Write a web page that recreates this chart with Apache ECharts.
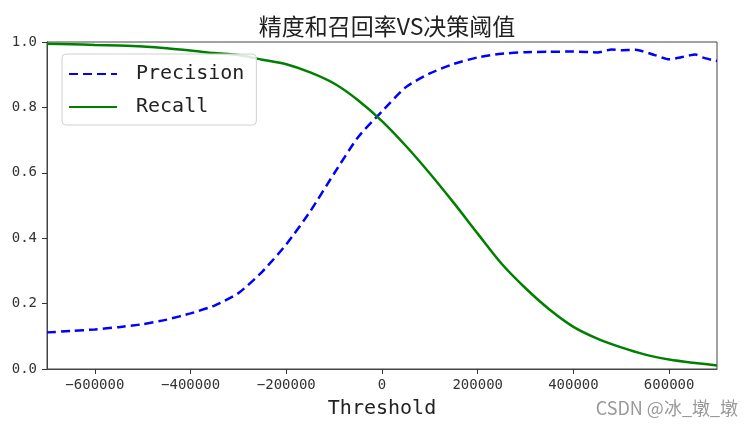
<!DOCTYPE html>
<html>
<head>
<meta charset="utf-8">
<script src="https://cdn.jsdelivr.net/npm/echarts@6/dist/echarts.min.js"></script>
<style>
  html, body { margin: 0; padding: 0; background: #fff; }
  #chart { width: 752px; height: 429px; }
</style>
</head>
<body>
<div id="chart"></div>
<script>
// precision / recall vs decision threshold
var precThresholds = [-700000, -650000, -600000, -550000, -500000, -450000, -400000, -350000,
  -300000, -250000, -200000, -150000, -100000, -50000, 0, 50000, 100000, 150000, 200000,
  250000, 300000, 350000, 400000, 450000, 480000, 500000, 530000, 570000, 600000, 630000,
  655000, 670000, 690000, 700000];
var precision = [0.112, 0.116, 0.121, 0.128, 0.137, 0.151, 0.170, 0.194,
  0.232, 0.298, 0.381, 0.482, 0.598, 0.709, 0.788, 0.862, 0.904, 0.933, 0.953,
  0.964, 0.969, 0.970, 0.971, 0.968, 0.977, 0.975, 0.976, 0.960, 0.947, 0.955,
  0.962, 0.953, 0.945, 0.942];

var recallThresholds = [-700000, -650000, -600000, -550000, -500000, -450000, -400000, -350000,
  -300000, -250000, -200000, -150000, -100000, -50000, 0, 50000, 100000, 150000, 200000,
  250000, 300000, 350000, 400000, 450000, 500000, 550000, 600000, 650000, 700000];
var recall = [0.995, 0.993, 0.991, 0.989, 0.986, 0.981, 0.974, 0.966,
  0.960, 0.946, 0.932, 0.907, 0.873, 0.822, 0.758, 0.682, 0.598, 0.508, 0.414,
  0.322, 0.247, 0.182, 0.129, 0.093, 0.066, 0.044, 0.029, 0.019, 0.011];

var xTicks = [-600000, -400000, -200000, 0, 200000, 400000, 600000];

function pairs(xs, ys) {
  return xs.map(function (x, i) { return [x, ys[i]]; });
}

var mono = 'DejaVu Sans Mono';
var axisColor = '#333';

var chart = echarts.init(document.getElementById('chart'));
chart.setOption({
  animation: false,
  title: {
    text: '精度和召回率VS决策阈值',
    left: 382,
    textAlign: 'center',
    top: 10,
    textStyle: { fontFamily: 'Noto Sans CJK SC', fontSize: 23, fontWeight: 'normal', color: '#222' }
  },
  legend: {
    left: 62,
    top: 54,
    orient: 'vertical',
    itemWidth: 48,
    itemHeight: 14,
    itemGap: 13,
    padding: [10, 12, 8, 6],
    backgroundColor: 'rgba(255,255,255,0.85)',
    borderColor: '#d0d0d0',
    borderWidth: 1,
    borderRadius: 4,
    itemStyle: { opacity: 0 },
    textStyle: { fontFamily: mono, fontSize: 20, color: '#222', padding: [0, 0, 0, 14] },
    data: ['Precision', 'Recall']
  },
  grid: {
    left: 47, right: 35, top: 42, bottom: 60,
    show: true, borderColor: '#444', borderWidth: 1, backgroundColor: 'transparent'
  },
  xAxis: {
    type: 'value',
    min: -700000,
    max: 700000,
    name: 'Threshold',
    nameLocation: 'middle',
    nameGap: 30,
    nameTextStyle: { fontFamily: mono, fontSize: 20, color: '#222' },
    splitLine: { show: false },
    axisLine: { show: true, onZero: false, lineStyle: { color: '#444' } },
    axisTick: { show: true, customValues: xTicks, length: 5, lineStyle: { color: axisColor } },
    axisLabel: {
      customValues: xTicks,
      margin: 9,
      fontFamily: mono,
      fontSize: 14,
      color: axisColor,
      formatter: function (v) { return String(v).replace('-', '\u2212'); }
    }
  },
  yAxis: {
    type: 'value',
    min: 0,
    max: 1,
    interval: 0.2,
    splitLine: { show: false },
    axisLine: { show: true, onZero: false, lineStyle: { color: '#444' } },
    axisTick: { show: true, length: 5, lineStyle: { color: axisColor } },
    axisLabel: {
      margin: 10,
      fontFamily: mono,
      fontSize: 14,
      color: axisColor,
      formatter: function (v) { return v.toFixed(1); }
    }
  },
  graphic: [{
    type: 'text',
    right: 14,
    top: 399,
    style: { text: 'CSDN @冰_墩_墩', fontFamily: 'Noto Sans CJK SC', fontSize: 18, fill: '#999' }
  }],
  series: [
    {
      name: 'Precision',
      type: 'line',
      data: pairs(precThresholds, precision),
      smooth: 0.2,
      symbol: 'none',
      color: '#0000ff',
      lineStyle: { width: 2.5, type: [9, 5], color: '#0000ff' }
    },
    {
      name: 'Recall',
      type: 'line',
      data: pairs(recallThresholds, recall),
      smooth: 0.3,
      symbol: 'none',
      color: '#008000',
      lineStyle: { width: 2.5, color: '#008000' }
    }
  ]
});
</script>
</body>
</html>
